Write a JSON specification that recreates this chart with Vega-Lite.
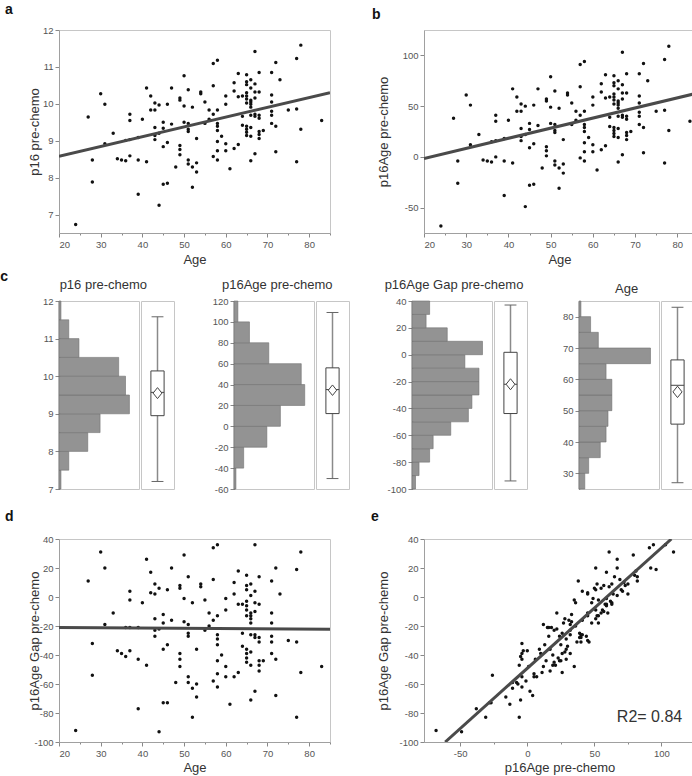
{
"$schema": "https://vega.github.io/schema/vega-lite/v6.json",
"background": "white",
"padding": {"left": 0, "top": 2, "right": 0, "bottom": 0},
"spacing": 15,
"config": {
  "font": "Liberation Sans",
  "view": {"stroke": "#c6c6c6", "strokeWidth": 1},
  "axis": {"grid": false, "labelOverlap": false, "labelFontSize": 9.5, "labelColor": "#555", "domainColor": "#a0a0a0", "tickColor": "#888", "tickSize": 4, "labelPadding": 2, "titleFontSize": 13, "titleFontWeight": "normal", "titleColor": "#333", "titlePadding": 2},
  "title": {"fontSize": 14, "fontWeight": "bold", "color": "#111"}
},
"datasets": {
  "patients": [
    {"age":24,"p16":6.73,"p16age":-68,"gap":-92},{"age":27,"p16":9.64,"p16age":38,"gap":11},{"age":28,"p16":8.48,"p16age":-4,"gap":-32},{"age":28,"p16":7.88,"p16age":-26,"gap":-54},
    {"age":30,"p16":10.27,"p16age":61,"gap":31},{"age":31,"p16":9.99,"p16age":51,"gap":20},{"age":31,"p16":8.92,"p16age":12,"gap":-19},{"age":33,"p16":9.20,"p16age":22,"gap":-11},
    {"age":34,"p16":8.51,"p16age":-3,"gap":-37},{"age":35,"p16":8.48,"p16age":-4,"gap":-39},{"age":36,"p16":8.46,"p16age":-5,"gap":-41},{"age":36,"p16":9.01,"p16age":15,"gap":-21},
    {"age":37,"p16":9.72,"p16age":41,"gap":4},{"age":37,"p16":9.55,"p16age":35,"gap":-2},{"age":37,"p16":9.03,"p16age":16,"gap":-21},{"age":37,"p16":8.59,"p16age":0,"gap":-37},
    {"age":39,"p16":9.09,"p16age":18,"gap":-21},{"age":39,"p16":8.48,"p16age":-4,"gap":-43},{"age":39,"p16":7.55,"p16age":-38,"gap":-77},{"age":40,"p16":9.58,"p16age":36,"gap":-4},
    {"age":41,"p16":10.43,"p16age":67,"gap":26},{"age":41,"p16":8.43,"p16age":-6,"gap":-47},{"age":42,"p16":10.21,"p16age":59,"gap":17},{"age":42,"p16":9.83,"p16age":45,"gap":3},
    {"age":43,"p16":10.02,"p16age":52,"gap":9},{"age":43,"p16":9.83,"p16age":45,"gap":2},{"age":43,"p16":9.36,"p16age":28,"gap":-15},{"age":43,"p16":9.14,"p16age":20,"gap":-23},
    {"age":43,"p16":9.03,"p16age":16,"gap":-27},{"age":44,"p16":9.97,"p16age":50,"gap":6},{"age":44,"p16":9.20,"p16age":22,"gap":-22},{"age":44,"p16":7.25,"p16age":-49,"gap":-93},
    {"age":45,"p16":9.50,"p16age":33,"gap":-12},{"age":45,"p16":9.34,"p16age":27,"gap":-18},{"age":45,"p16":8.84,"p16age":9,"gap":-36},{"age":45,"p16":7.82,"p16age":-28,"gap":-73},
    {"age":46,"p16":9.99,"p16age":51,"gap":5},{"age":46,"p16":8.95,"p16age":13,"gap":-33},{"age":46,"p16":7.85,"p16age":-27,"gap":-73},{"age":47,"p16":10.43,"p16age":67,"gap":20},
    {"age":47,"p16":9.45,"p16age":31,"gap":-16},{"age":48,"p16":8.29,"p16age":-11,"gap":-59},{"age":49,"p16":10.16,"p16age":57,"gap":8},{"age":49,"p16":10.10,"p16age":55,"gap":6},
    {"age":49,"p16":8.87,"p16age":10,"gap":-39},{"age":49,"p16":8.76,"p16age":6,"gap":-43},{"age":49,"p16":8.62,"p16age":1,"gap":-48},{"age":50,"p16":10.76,"p16age":79,"gap":29},
    {"age":50,"p16":9.94,"p16age":49,"gap":-1},{"age":50,"p16":9.50,"p16age":33,"gap":-17},{"age":51,"p16":10.38,"p16age":65,"gap":14},{"age":51,"p16":9.47,"p16age":32,"gap":-19},
    {"age":51,"p16":9.31,"p16age":26,"gap":-25},{"age":51,"p16":9.25,"p16age":24,"gap":-27},{"age":51,"p16":8.48,"p16age":-4,"gap":-55},{"age":51,"p16":8.37,"p16age":-8,"gap":-59},
    {"age":52,"p16":9.91,"p16age":48,"gap":-4},{"age":52,"p16":8.29,"p16age":-11,"gap":-63},{"age":52,"p16":7.74,"p16age":-31,"gap":-83},{"age":53,"p16":9.06,"p16age":17,"gap":-36},
    {"age":53,"p16":8.40,"p16age":-7,"gap":-60},{"age":53,"p16":8.15,"p16age":-16,"gap":-69},{"age":54,"p16":10.32,"p16age":63,"gap":9},{"age":54,"p16":10.27,"p16age":61,"gap":7},
    {"age":55,"p16":10.05,"p16age":53,"gap":-2},{"age":55,"p16":9.47,"p16age":32,"gap":-23},{"age":56,"p16":9.83,"p16age":45,"gap":-11},{"age":56,"p16":9.58,"p16age":36,"gap":-20},
    {"age":57,"p16":11.09,"p16age":91,"gap":34},{"age":57,"p16":10.49,"p16age":69,"gap":12},{"age":57,"p16":9.72,"p16age":41,"gap":-16},{"age":57,"p16":8.57,"p16age":-1,"gap":-58},
    {"age":58,"p16":11.18,"p16age":94,"gap":36},{"age":58,"p16":9.83,"p16age":45,"gap":-13},{"age":58,"p16":9.47,"p16age":32,"gap":-26},{"age":58,"p16":9.39,"p16age":29,"gap":-29},
    {"age":58,"p16":9.28,"p16age":25,"gap":-33},{"age":58,"p16":8.98,"p16age":14,"gap":-44},{"age":58,"p16":8.73,"p16age":5,"gap":-53},{"age":58,"p16":8.48,"p16age":-4,"gap":-62},
    {"age":59,"p16":9.12,"p16age":19,"gap":-40},{"age":60,"p16":10.21,"p16age":59,"gap":-1},{"age":60,"p16":9.99,"p16age":51,"gap":-9},{"age":60,"p16":8.92,"p16age":12,"gap":-48},
    {"age":60,"p16":8.73,"p16age":5,"gap":-55},{"age":61,"p16":8.24,"p16age":-13,"gap":-74},{"age":62,"p16":10.57,"p16age":72,"gap":10},{"age":62,"p16":10.35,"p16age":64,"gap":2},
    {"age":62,"p16":8.79,"p16age":7,"gap":-55},{"age":63,"p16":10.82,"p16age":81,"gap":18},{"age":63,"p16":10.19,"p16age":58,"gap":-5},{"age":63,"p16":8.90,"p16age":11,"gap":-52},
    {"age":64,"p16":10.21,"p16age":59,"gap":-5},{"age":64,"p16":9.66,"p16age":39,"gap":-25},{"age":64,"p16":9.42,"p16age":30,"gap":-34},{"age":65,"p16":10.79,"p16age":80,"gap":15},
    {"age":65,"p16":10.60,"p16age":73,"gap":8},{"age":65,"p16":10.52,"p16age":70,"gap":5},{"age":65,"p16":10.30,"p16age":62,"gap":-3},{"age":65,"p16":10.21,"p16age":59,"gap":-6},
    {"age":65,"p16":10.13,"p16age":56,"gap":-9},{"age":65,"p16":10.02,"p16age":52,"gap":-13},{"age":65,"p16":9.39,"p16age":29,"gap":-36},{"age":65,"p16":9.31,"p16age":26,"gap":-39},
    {"age":65,"p16":9.23,"p16age":23,"gap":-42},{"age":65,"p16":9.14,"p16age":20,"gap":-45},{"age":66,"p16":10.65,"p16age":75,"gap":9},{"age":66,"p16":10.43,"p16age":67,"gap":1},
    {"age":66,"p16":10.10,"p16age":55,"gap":-11},{"age":66,"p16":10.05,"p16age":53,"gap":-13},{"age":66,"p16":9.99,"p16age":51,"gap":-15},{"age":66,"p16":9.91,"p16age":48,"gap":-18},
    {"age":66,"p16":9.69,"p16age":40,"gap":-26},{"age":66,"p16":9.36,"p16age":28,"gap":-38},{"age":66,"p16":9.12,"p16age":19,"gap":-47},{"age":66,"p16":8.46,"p16age":-5,"gap":-71},
    {"age":67,"p16":11.42,"p16age":103,"gap":36},{"age":67,"p16":10.54,"p16age":71,"gap":4},{"age":67,"p16":10.32,"p16age":63,"gap":-4},{"age":67,"p16":10.16,"p16age":57,"gap":-10},
    {"age":67,"p16":9.72,"p16age":41,"gap":-26},{"age":67,"p16":9.66,"p16age":39,"gap":-28},{"age":67,"p16":8.65,"p16age":2,"gap":-65},{"age":68,"p16":10.85,"p16age":82,"gap":14},
    {"age":68,"p16":10.32,"p16age":63,"gap":-5},{"age":68,"p16":9.69,"p16age":40,"gap":-28},{"age":68,"p16":9.61,"p16age":37,"gap":-31},{"age":68,"p16":9.25,"p16age":24,"gap":-44},
    {"age":68,"p16":9.17,"p16age":21,"gap":-47},{"age":68,"p16":9.06,"p16age":17,"gap":-51},{"age":69,"p16":9.28,"p16age":25,"gap":-44},{"age":71,"p16":10.85,"p16age":82,"gap":11},
    {"age":71,"p16":10.24,"p16age":60,"gap":-11},{"age":71,"p16":10.05,"p16age":53,"gap":-18},{"age":71,"p16":9.80,"p16age":44,"gap":-27},{"age":71,"p16":9.69,"p16age":40,"gap":-31},
    {"age":71,"p16":9.47,"p16age":32,"gap":-39},{"age":72,"p16":11.12,"p16age":92,"gap":20},{"age":72,"p16":9.39,"p16age":29,"gap":-43},{"age":72,"p16":8.70,"p16age":4,"gap":-68},
    {"age":73,"p16":10.65,"p16age":75,"gap":2},{"age":75,"p16":9.83,"p16age":45,"gap":-30},{"age":77,"p16":11.23,"p16age":96,"gap":19},{"age":77,"p16":9.86,"p16age":46,"gap":-31},
    {"age":77,"p16":8.43,"p16age":-6,"gap":-83},{"age":78,"p16":11.59,"p16age":109,"gap":31},{"age":78,"p16":9.31,"p16age":26,"gap":-52},{"age":83,"p16":9.55,"p16age":35,"gap":-48}
  ],
  "lineA": [{"age":20,"p16":8.58},{"age":85,"p16":10.30}],
  "lineB": [{"age":20,"p16age":-1.6},{"age":84.2,"p16age":62.3}],
  "lineD": [{"age":20,"gap":-21},{"age":85,"gap":-22.2}],
  "lineE": [{"p16age":-61.2,"gap":-100},{"p16age":107.4,"gap":40}],
  "r2": [{"label":"R2= 0.84"}],
  "h1": [{"lo":7,"hi":7.5,"n":1},{"lo":7.5,"hi":8,"n":5},{"lo":8,"hi":8.5,"n":14.7},{"lo":8.5,"hi":9,"n":21},{"lo":9,"hi":9.5,"n":36},{"lo":9.5,"hi":10,"n":34},{"lo":10,"hi":10.5,"n":30.5},{"lo":10.5,"hi":11,"n":10.2},{"lo":11,"hi":11.5,"n":5},{"lo":11.5,"hi":12,"n":1}],
  "h2": [{"lo":-60,"hi":-40,"n":1},{"lo":-40,"hi":-20,"n":5},{"lo":-20,"hi":0,"n":17},{"lo":0,"hi":20,"n":24},{"lo":20,"hi":40,"n":36.6},{"lo":40,"hi":60,"n":34.8},{"lo":60,"hi":80,"n":18},{"lo":80,"hi":100,"n":8},{"lo":100,"hi":120,"n":2}],
  "h3": [{"lo":-100,"hi":-90,"n":1},{"lo":-90,"hi":-80,"n":2},{"lo":-80,"hi":-70,"n":5},{"lo":-70,"hi":-60,"n":6},{"lo":-60,"hi":-50,"n":11},{"lo":-50,"hi":-40,"n":16},{"lo":-40,"hi":-30,"n":17},{"lo":-30,"hi":-20,"n":19},{"lo":-20,"hi":-10,"n":19},{"lo":-10,"hi":0,"n":15},{"lo":0,"hi":10,"n":20},{"lo":10,"hi":20,"n":10},{"lo":20,"hi":30,"n":4},{"lo":30,"hi":40,"n":5}],
  "h4": [{"lo":25,"hi":30,"n":3},{"lo":30,"hi":35,"n":5},{"lo":35,"hi":40,"n":11},{"lo":40,"hi":45,"n":14},{"lo":45,"hi":50,"n":15},{"lo":50,"hi":55,"n":17},{"lo":55,"hi":60,"n":17},{"lo":60,"hi":65,"n":14},{"lo":65,"hi":70,"n":37},{"lo":70,"hi":75,"n":10},{"lo":75,"hi":80,"n":6},{"lo":80,"hi":85,"n":1}],
  "b1": [{"min":7.2,"q1":8.95,"median":9.57,"q3":10.14,"max":11.58,"mean":9.55}],
  "b2": [{"min":-50,"q1":12.2,"median":35.2,"q3":56,"max":109,"mean":34.6}],
  "b3": [{"min":-94,"q1":-43.8,"median":-22,"q3":1.8,"max":37,"mean":-22}],
  "b4": [{"min":27,"q1":45.7,"median":58.1,"q3":66.2,"max":83,"mean":56}]
},
"vconcat": [
 {"vconcat": [
  {"hconcat": [
    {"width": 271, "height": 203,
     "title": {"text": "a", "anchor": "start", "frame": "group", "dx": -54, "offset": 8},
     "encoding": {
       "x": {"field": "age", "type": "quantitative", "scale": {"domain": [20, 85], "nice": false, "zero": false},
             "axis": {"title": "Age", "titlePadding": 5, "labelOverlap": false, "values": [20,25,30,35,40,45,50,55,60,65,70,75,80,85], "labelExpr": "datum.value % 10 === 0 ? '' + datum.value : ' '", "tickSize": {"condition": {"test": "datum.value % 10 !== 0", "value": 2}, "value": 4}}},
       "y": {"field": "p16", "type": "quantitative", "scale": {"domain": [6.5, 12], "nice": false, "zero": false},
             "axis": {"title": "p16 pre-chemo", "titleX": -18, "labelOverlap": false, "values": [7,8,9,10,11,12], "labelExpr": "'' + datum.value"}}},
     "layer": [
       {"data": {"name": "patients"}, "mark": {"type": "circle", "size": 12, "color": "#111", "opacity": 1}},
       {"data": {"name": "lineA"}, "mark": {"type": "line", "color": "#4a4a4a", "strokeWidth": 3, "clip": true}, "encoding": {}}
     ]},
    {"width": 271, "height": 203,
     "title": {"text": "b", "anchor": "start", "frame": "group", "dx": -52, "offset": 8},
     "encoding": {
       "x": {"field": "age", "type": "quantitative", "scale": {"domain": [20, 84.2], "nice": false, "zero": false},
             "axis": {"title": "Age", "titlePadding": 5, "labelOverlap": false, "values": [20,25,30,35,40,45,50,55,60,65,70,75,80], "labelExpr": "datum.value % 10 === 0 ? '' + datum.value : ' '", "tickSize": {"condition": {"test": "datum.value % 10 !== 0", "value": 2}, "value": 4}}},
       "y": {"field": "p16age", "type": "quantitative", "scale": {"domain": [-75, 125], "nice": false, "zero": false},
             "axis": {"title": "p16Age pre-chemo", "titleX": -34, "labelOverlap": false, "values": [-50,0,50,100], "labelExpr": "'' + datum.value"}}},
     "layer": [
       {"data": {"name": "patients"}, "mark": {"type": "circle", "size": 12, "color": "#111", "opacity": 1}},
       {"data": {"name": "lineB"}, "mark": {"type": "line", "color": "#4a4a4a", "strokeWidth": 3, "clip": true}, "encoding": {}}
     ]}
  ], "spacing": 40},
  {"title": {"text": "c", "anchor": "start", "dx": -32, "offset": -5},
   "hconcat": [
    {"title": {"text": "p16 pre-chemo", "anchor": "middle", "fontSize": 13, "fontWeight": "normal", "color": "#333", "offset": 4},
     "hconcat": [
      {"width": 80, "height": 188, "data": {"name": "h1"},
       "mark": {"type": "rect", "color": "#939393", "stroke": "#707070", "strokeWidth": 0.6},
       "encoding": {
         "y": {"field": "lo", "type": "quantitative", "scale": {"domain": [7, 12], "nice": false, "zero": false},
               "axis": {"title": null, "labelOverlap": false, "values": [7,8,9,10,11,12], "labelExpr": "'' + datum.value", "domainColor": "#555", "domainWidth": 1.5, "minExtent": 26.3, "maxExtent": 26.3}},
         "y2": {"field": "hi"},
         "x": {"field": "n", "type": "quantitative", "scale": {"domain": [0, 40.9], "nice": false}, "axis": null},
         "x2": {"datum": 0}}},
      {"width": 33, "height": 188, "data": {"name": "b1"},
       "layer": [
        {"mark": {"type": "rule", "color": "#8a8a8a", "strokeWidth": 1.5},
         "encoding": {"x": {"datum": 0, "type": "quantitative", "scale": {"domain": [-1, 1]}, "axis": null},
                      "y": {"field": "min", "type": "quantitative", "scale": {"domain": [7, 12], "nice": false, "zero": false}, "axis": null}, "y2": {"field": "max"}}},
        {"mark": {"type": "rule", "color": "#666", "strokeWidth": 1},
         "encoding": {"x": {"datum": -0.36, "type": "quantitative", "axis": null}, "x2": {"datum": 0.36}, "y": {"field": "min", "type": "quantitative", "axis": null}}},
        {"mark": {"type": "rule", "color": "#666", "strokeWidth": 1},
         "encoding": {"x": {"datum": -0.36, "type": "quantitative", "axis": null}, "x2": {"datum": 0.36}, "y": {"field": "max", "type": "quantitative", "axis": null}}},
        {"mark": {"type": "rect", "fill": "white", "stroke": "#444", "strokeWidth": 1},
         "encoding": {"x": {"datum": -0.4, "type": "quantitative", "axis": null}, "x2": {"datum": 0.4}, "y": {"field": "q1", "type": "quantitative", "axis": null}, "y2": {"field": "q3"}}},
        {"mark": {"type": "rule", "color": "#444", "strokeWidth": 1},
         "encoding": {"x": {"datum": -0.4, "type": "quantitative", "axis": null}, "x2": {"datum": 0.4}, "y": {"field": "median", "type": "quantitative", "axis": null}}},
        {"mark": {"type": "point", "shape": "M0,-1L0.8,0L0,1L-0.8,0Z", "size": 121, "filled": true, "fill": "white", "stroke": "#444", "strokeWidth": 1, "opacity": 1},
         "encoding": {"x": {"datum": 0, "type": "quantitative", "axis": null}, "y": {"field": "mean", "type": "quantitative", "axis": null}}}
       ]}
     ], "spacing": 0},
    {"title": {"text": "p16Age pre-chemo", "anchor": "middle", "fontSize": 13, "fontWeight": "normal", "color": "#333", "offset": 4},
     "hconcat": [
      {"width": 80, "height": 188, "data": {"name": "h2"},
       "mark": {"type": "rect", "color": "#939393", "stroke": "#707070", "strokeWidth": 0.6},
       "encoding": {
         "y": {"field": "lo", "type": "quantitative", "scale": {"domain": [-60, 120], "nice": false, "zero": false},
               "axis": {"title": null, "labelOverlap": false, "values": [-60,-40,-20,0,20,40,60,80,100,120], "labelExpr": "'' + datum.value", "domainColor": "#555", "domainWidth": 1.5, "minExtent": 28.5, "maxExtent": 28.5}},
         "y2": {"field": "hi"},
         "x": {"field": "n", "type": "quantitative", "scale": {"domain": [0, 41.4], "nice": false}, "axis": null},
         "x2": {"datum": 0}}},
      {"width": 33, "height": 188, "data": {"name": "b2"},
       "layer": [
        {"mark": {"type": "rule", "color": "#8a8a8a", "strokeWidth": 1.5},
         "encoding": {"x": {"datum": 0, "type": "quantitative", "scale": {"domain": [-1, 1]}, "axis": null},
                      "y": {"field": "min", "type": "quantitative", "scale": {"domain": [-60, 120], "nice": false, "zero": false}, "axis": null}, "y2": {"field": "max"}}},
        {"mark": {"type": "rule", "color": "#666", "strokeWidth": 1},
         "encoding": {"x": {"datum": -0.36, "type": "quantitative", "axis": null}, "x2": {"datum": 0.36}, "y": {"field": "min", "type": "quantitative", "axis": null}}},
        {"mark": {"type": "rule", "color": "#666", "strokeWidth": 1},
         "encoding": {"x": {"datum": -0.36, "type": "quantitative", "axis": null}, "x2": {"datum": 0.36}, "y": {"field": "max", "type": "quantitative", "axis": null}}},
        {"mark": {"type": "rect", "fill": "white", "stroke": "#444", "strokeWidth": 1},
         "encoding": {"x": {"datum": -0.4, "type": "quantitative", "axis": null}, "x2": {"datum": 0.4}, "y": {"field": "q1", "type": "quantitative", "axis": null}, "y2": {"field": "q3"}}},
        {"mark": {"type": "rule", "color": "#444", "strokeWidth": 1},
         "encoding": {"x": {"datum": -0.4, "type": "quantitative", "axis": null}, "x2": {"datum": 0.4}, "y": {"field": "median", "type": "quantitative", "axis": null}}},
        {"mark": {"type": "point", "shape": "M0,-1L0.8,0L0,1L-0.8,0Z", "size": 110, "filled": true, "fill": "white", "stroke": "#444", "strokeWidth": 1, "opacity": 1},
         "encoding": {"x": {"datum": 0, "type": "quantitative", "axis": null}, "y": {"field": "mean", "type": "quantitative", "axis": null}}}
       ]}
     ], "spacing": 0},
    {"title": {"text": "p16Age Gap pre-chemo", "anchor": "middle", "fontSize": 13, "fontWeight": "normal", "color": "#333", "offset": 4},
     "hconcat": [
      {"width": 80, "height": 188, "data": {"name": "h3"},
       "mark": {"type": "rect", "color": "#939393", "stroke": "#707070", "strokeWidth": 0.6},
       "encoding": {
         "y": {"field": "lo", "type": "quantitative", "scale": {"domain": [-100, 40], "nice": false, "zero": false},
               "axis": {"title": null, "labelOverlap": false, "values": [-100,-80,-60,-40,-20,0,20,40], "labelExpr": "'' + datum.value", "domainColor": "#555", "domainWidth": 1.5, "minExtent": 31, "maxExtent": 31}},
         "y2": {"field": "hi"},
         "x": {"field": "n", "type": "quantitative", "scale": {"domain": [0, 22.7], "nice": false}, "axis": null},
         "x2": {"datum": 0}}},
      {"width": 33, "height": 188, "data": {"name": "b3"},
       "layer": [
        {"mark": {"type": "rule", "color": "#8a8a8a", "strokeWidth": 1.5},
         "encoding": {"x": {"datum": 0, "type": "quantitative", "scale": {"domain": [-1, 1]}, "axis": null},
                      "y": {"field": "min", "type": "quantitative", "scale": {"domain": [-100, 40], "nice": false, "zero": false}, "axis": null}, "y2": {"field": "max"}}},
        {"mark": {"type": "rule", "color": "#666", "strokeWidth": 1},
         "encoding": {"x": {"datum": -0.36, "type": "quantitative", "axis": null}, "x2": {"datum": 0.36}, "y": {"field": "min", "type": "quantitative", "axis": null}}},
        {"mark": {"type": "rule", "color": "#666", "strokeWidth": 1},
         "encoding": {"x": {"datum": -0.36, "type": "quantitative", "axis": null}, "x2": {"datum": 0.36}, "y": {"field": "max", "type": "quantitative", "axis": null}}},
        {"mark": {"type": "rect", "fill": "white", "stroke": "#444", "strokeWidth": 1},
         "encoding": {"x": {"datum": -0.4, "type": "quantitative", "axis": null}, "x2": {"datum": 0.4}, "y": {"field": "q1", "type": "quantitative", "axis": null}, "y2": {"field": "q3"}}},
        {"mark": {"type": "rule", "color": "#444", "strokeWidth": 1},
         "encoding": {"x": {"datum": -0.4, "type": "quantitative", "axis": null}, "x2": {"datum": 0.4}, "y": {"field": "median", "type": "quantitative", "axis": null}}},
        {"mark": {"type": "point", "shape": "M0,-1L0.8,0L0,1L-0.8,0Z", "size": 121, "filled": true, "fill": "white", "stroke": "#444", "strokeWidth": 1, "opacity": 1},
         "encoding": {"x": {"datum": 0, "type": "quantitative", "axis": null}, "y": {"field": "mean", "type": "quantitative", "axis": null}}}
       ]}
     ], "spacing": 0},
    {"title": {"text": "Age", "anchor": "middle", "fontSize": 13, "fontWeight": "normal", "color": "#333", "offset": 4},
     "hconcat": [
      {"width": 80, "height": 188, "data": {"name": "h4"},
       "mark": {"type": "rect", "color": "#939393", "stroke": "#707070", "strokeWidth": 0.6},
       "encoding": {
         "y": {"field": "lo", "type": "quantitative", "scale": {"domain": [25, 85], "nice": false, "zero": false},
               "axis": {"title": null, "labelOverlap": false, "values": [30,40,50,60,70,80], "labelExpr": "'' + datum.value", "domainColor": "#555", "domainWidth": 1.5, "minExtent": 19.7, "maxExtent": 19.7}},
         "y2": {"field": "hi"},
         "x": {"field": "n", "type": "quantitative", "scale": {"domain": [0, 41.4], "nice": false}, "axis": null},
         "x2": {"datum": 0}}},
      {"width": 33, "height": 188, "data": {"name": "b4"},
       "layer": [
        {"mark": {"type": "rule", "color": "#8a8a8a", "strokeWidth": 1.5},
         "encoding": {"x": {"datum": 0, "type": "quantitative", "scale": {"domain": [-1, 1]}, "axis": null},
                      "y": {"field": "min", "type": "quantitative", "scale": {"domain": [25, 85], "nice": false, "zero": false}, "axis": null}, "y2": {"field": "max"}}},
        {"mark": {"type": "rule", "color": "#666", "strokeWidth": 1},
         "encoding": {"x": {"datum": -0.36, "type": "quantitative", "axis": null}, "x2": {"datum": 0.36}, "y": {"field": "min", "type": "quantitative", "axis": null}}},
        {"mark": {"type": "rule", "color": "#666", "strokeWidth": 1},
         "encoding": {"x": {"datum": -0.36, "type": "quantitative", "axis": null}, "x2": {"datum": 0.36}, "y": {"field": "max", "type": "quantitative", "axis": null}}},
        {"mark": {"type": "rect", "fill": "white", "stroke": "#444", "strokeWidth": 1},
         "encoding": {"x": {"datum": -0.4, "type": "quantitative", "axis": null}, "x2": {"datum": 0.4}, "y": {"field": "q1", "type": "quantitative", "axis": null}, "y2": {"field": "q3"}}},
        {"mark": {"type": "rule", "color": "#444", "strokeWidth": 1},
         "encoding": {"x": {"datum": -0.4, "type": "quantitative", "axis": null}, "x2": {"datum": 0.4}, "y": {"field": "median", "type": "quantitative", "axis": null}}},
        {"mark": {"type": "point", "shape": "M0,-1L0.8,0L0,1L-0.8,0Z", "size": 130, "filled": true, "fill": "white", "stroke": "#444", "strokeWidth": 1, "opacity": 1},
         "encoding": {"x": {"datum": 0, "type": "quantitative", "axis": null}, "y": {"field": "mean", "type": "quantitative", "axis": null}}}
       ]}
     ], "spacing": 0}
   ], "spacing": 30}
 ], "spacing": 2},
  {"hconcat": [
    {"width": 271, "height": 203,
     "title": {"text": "d", "anchor": "start", "frame": "group", "dx": -54, "offset": 10},
     "encoding": {
       "x": {"field": "age", "type": "quantitative", "scale": {"domain": [20, 85], "nice": false, "zero": false},
             "axis": {"title": "Age", "titlePadding": 4, "labelOverlap": false, "values": [20,25,30,35,40,45,50,55,60,65,70,75,80,85], "labelExpr": "datum.value % 10 === 0 ? '' + datum.value : ' '", "tickSize": {"condition": {"test": "datum.value % 10 !== 0", "value": 2}, "value": 4}}},
       "y": {"field": "gap", "type": "quantitative", "scale": {"domain": [-100, 40], "nice": false, "zero": false},
             "axis": {"title": "p16Age Gap pre-chemo", "titleX": -18, "labelOverlap": false, "values": [-100,-80,-60,-40,-20,0,20,40], "labelExpr": "'' + datum.value"}}},
     "layer": [
       {"data": {"name": "patients"}, "mark": {"type": "circle", "size": 12, "color": "#111", "opacity": 1}},
       {"data": {"name": "lineD"}, "mark": {"type": "line", "color": "#4a4a4a", "strokeWidth": 3, "clip": true}, "encoding": {}}
     ]},
    {"width": 271, "height": 203,
     "title": {"text": "e", "anchor": "start", "frame": "group", "dx": -53, "offset": 10},
     "layer": [
       {"data": {"name": "patients"}, "mark": {"type": "circle", "size": 12, "color": "#111", "opacity": 1},
        "encoding": {
          "x": {"field": "p16age", "type": "quantitative", "scale": {"domain": [-77, 125], "nice": false, "zero": false},
                "axis": {"title": "p16Age pre-chemo", "titlePadding": 4, "labelOverlap": false, "values": [-50,-25,0,25,50,75,100,125], "labelExpr": "datum.value % 50 === 0 ? '' + datum.value : ' '", "tickSize": {"condition": {"test": "datum.value % 50 !== 0", "value": 2}, "value": 4}}},
          "y": {"field": "gap", "type": "quantitative", "scale": {"domain": [-100, 40], "nice": false, "zero": false},
                "axis": {"title": "p16Age Gap pre-chemo", "titleX": -34, "labelOverlap": false, "values": [-100,-80,-60,-40,-20,0,20,40], "labelExpr": "'' + datum.value"}}}},
       {"data": {"name": "lineE"}, "mark": {"type": "line", "color": "#4a4a4a", "strokeWidth": 3, "clip": true},
        "encoding": {
          "x": {"field": "p16age", "type": "quantitative",
                "axis": {"title": "p16Age pre-chemo", "titlePadding": 4, "labelOverlap": false, "values": [-50,-25,0,25,50,75,100,125], "labelExpr": "datum.value % 50 === 0 ? '' + datum.value : ' '", "tickSize": {"condition": {"test": "datum.value % 50 !== 0", "value": 2}, "value": 4}}},
          "y": {"field": "gap", "type": "quantitative",
                "axis": {"title": "p16Age Gap pre-chemo", "titleX": -34, "labelOverlap": false, "values": [-100,-80,-60,-40,-20,0,20,40], "labelExpr": "'' + datum.value"}}}},
       {"data": {"name": "r2"}, "mark": {"type": "text", "fontSize": 16, "align": "right", "baseline": "middle", "color": "#333"},
        "encoding": {"text": {"field": "label", "type": "nominal"},
          "x": {"datum": 115.5, "type": "quantitative",
                "axis": {"title": "p16Age pre-chemo", "titlePadding": 4, "labelOverlap": false, "values": [-50,-25,0,25,50,75,100,125], "labelExpr": "datum.value % 50 === 0 ? '' + datum.value : ' '", "tickSize": {"condition": {"test": "datum.value % 50 !== 0", "value": 2}, "value": 4}}},
          "y": {"datum": -83, "type": "quantitative",
                "axis": {"title": "p16Age Gap pre-chemo", "titleX": -34, "labelOverlap": false, "values": [-100,-80,-60,-40,-20,0,20,40], "labelExpr": "'' + datum.value"}}}}
     ]}
  ], "spacing": 39}
]
}
